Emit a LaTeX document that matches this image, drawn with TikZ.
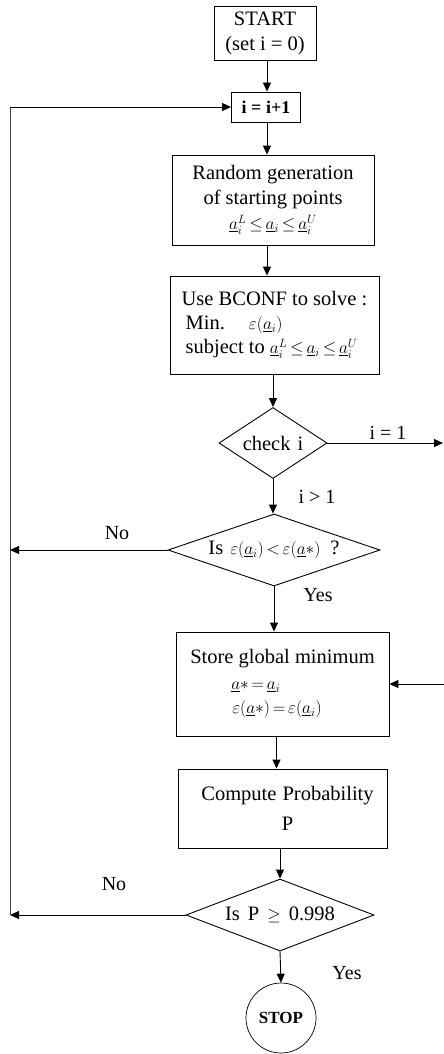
\documentclass[tikz,border=0pt]{standalone}
\usepackage{fontspec}
\setmainfont{Liberation Serif}
\usetikzlibrary{arrows.meta,shapes.geometric,calc}
\newcommand\mth[1]{{\fontsize{17.5}{20}\selectfont\thickmuskip=3mu\medmuskip=2mu$#1$}}
\newcommand\ua{\underline{a}}
\begin{document}
\begin{tikzpicture}[x=1pt,y=-1pt,
  box/.style={draw, line width=0.9pt, align=center, inner sep=0pt, font=\fontsize{20.5}{25}\selectfont},
  dec/.style={draw, diamond, line width=0.9pt, inner sep=0pt, font=\fontsize{20.5}{24}\selectfont},
  arr/.style={-{Triangle[length=9pt,width=8pt]}, line width=0.9pt},
  lbl/.style={font=\fontsize{20}{24}\selectfont, inner sep=0pt}]
\useasboundingbox (0,0) rectangle (444,1054);

\node[box, minimum width=102pt, minimum height=54pt] (start) at (265,33) {START\\(set i = 0)};
\node[box, minimum width=69pt, minimum height=30pt, font=\bfseries\fontsize{18}{22}\selectfont] (inc) at (266,107) {i = i+1};
\node[box, minimum width=202pt, minimum height=90pt] (rand) at (273,200) {Random generation\\of starting points\\\mth{\ua_i^L \le \ua_i \le \ua_i^U}};
\node[box, minimum width=209pt, minimum height=98pt, font=\fontsize{20.5}{24}\selectfont] (bconf) at (274.5,325) {\begin{tabular}{@{}l@{}}Use BCONF to solve :\\ \hspace{4pt}Min.\hspace{24pt}\mth{\varepsilon(\ua_i)}\\ \hspace{4pt}subject to \mth{\ua_i^L \le \ua_i \le \ua_i^U}\end{tabular}};
\node[dec, minimum width=108pt, minimum height=71pt, aspect=1.52] (chk) at (273,443) {check\hspace{7pt}i};
\node[dec, minimum width=212pt, minimum height=72pt, aspect=2.9] (ise) at (274,550) {Is\hspace{7pt}\mth{\varepsilon(\ua_i)<\varepsilon(\ua{*})}\hspace{10pt}?};
\node[box, minimum width=213pt, minimum height=104pt, font=\fontsize{20.5}{24}\selectfont] (store) at (282.5,684) {\begin{tabular}{@{}l@{}}\multicolumn{1}{@{}c@{}}{Store global minimum}\\[2pt] \hspace{41pt}\mth{\ua{*}=\ua_i}\\ \hspace{42pt}\mth{\varepsilon(\ua{*})=\varepsilon(\ua_i)}\end{tabular}};
\node[box, minimum width=209pt, minimum height=79pt, font=\fontsize{20.5}{30}\selectfont] (comp) at (282.5,808.5) {\hspace*{10pt}Compute\hspace{6pt}Probability\\\hspace*{10pt}P};
\node[dec, minimum width=188pt, minimum height=72pt, aspect=2.6] (isp) at (280,915) {Is\hspace{8pt}P\hspace{8pt}\mth{\geq}\hspace{8pt}0.998};
\node[draw, circle, line width=0.7pt, minimum size=70pt, inner sep=0pt, font=\bfseries\fontsize{17}{20}\selectfont] (stop) at (281,1018) {STOP};

\coordinate (lt) at (10,107);
\coordinate (lb) at (10,915);
\coordinate (rt) at (443,443);
\coordinate (rs) at (444,683);

\draw[arr] ([xshift=2pt]start.south) -- ([xshift=2pt]start.south |- inc.north);
\draw[arr] ([xshift=1pt]inc.south) -- ([xshift=1pt]inc.south |- rand.north);
\draw[arr] ([xshift=-6pt]rand.south) -- ([xshift=-6pt]rand.south |- bconf.north);
\draw[arr] (chk.north |- bconf.south) -- (chk.north);
\draw[arr] (chk.south) -- (chk.south |- ise.north);
\draw[arr] (ise.south) -- (ise.south |- store.north);
\draw[arr] ([xshift=-6pt]store.south) -- ([xshift=-6pt]store.south |- comp.north);
\draw[arr] (isp.north |- comp.south) -- (isp.north);
\draw[arr] (isp.south) -- (stop.north);

\draw[arr] (ise.west) -- (ise.west -| lt);
\draw[arr] (isp.west) -- (isp.west -| lt);
\draw[line width=0.9pt, black!75] (lb) -- (lt);
\draw[arr] (lt) -- (inc.west);
\draw[arr] (chk.east) -- (chk.east -| rt);
\draw[arr] (store.east -| rs) -- (store.east);

\node[lbl] (l1) at (388,433) {i = 1};
\node[lbl] (l2) at (317,497) {i > 1};
\node[lbl] (l3) at (117,533) {No};
\node[lbl] (l4) at (318,595) {Yes};
\node[lbl] (l5) at (114,884) {No};
\node[lbl] (l6) at (347,973) {Yes};
\end{tikzpicture}
\end{document}
